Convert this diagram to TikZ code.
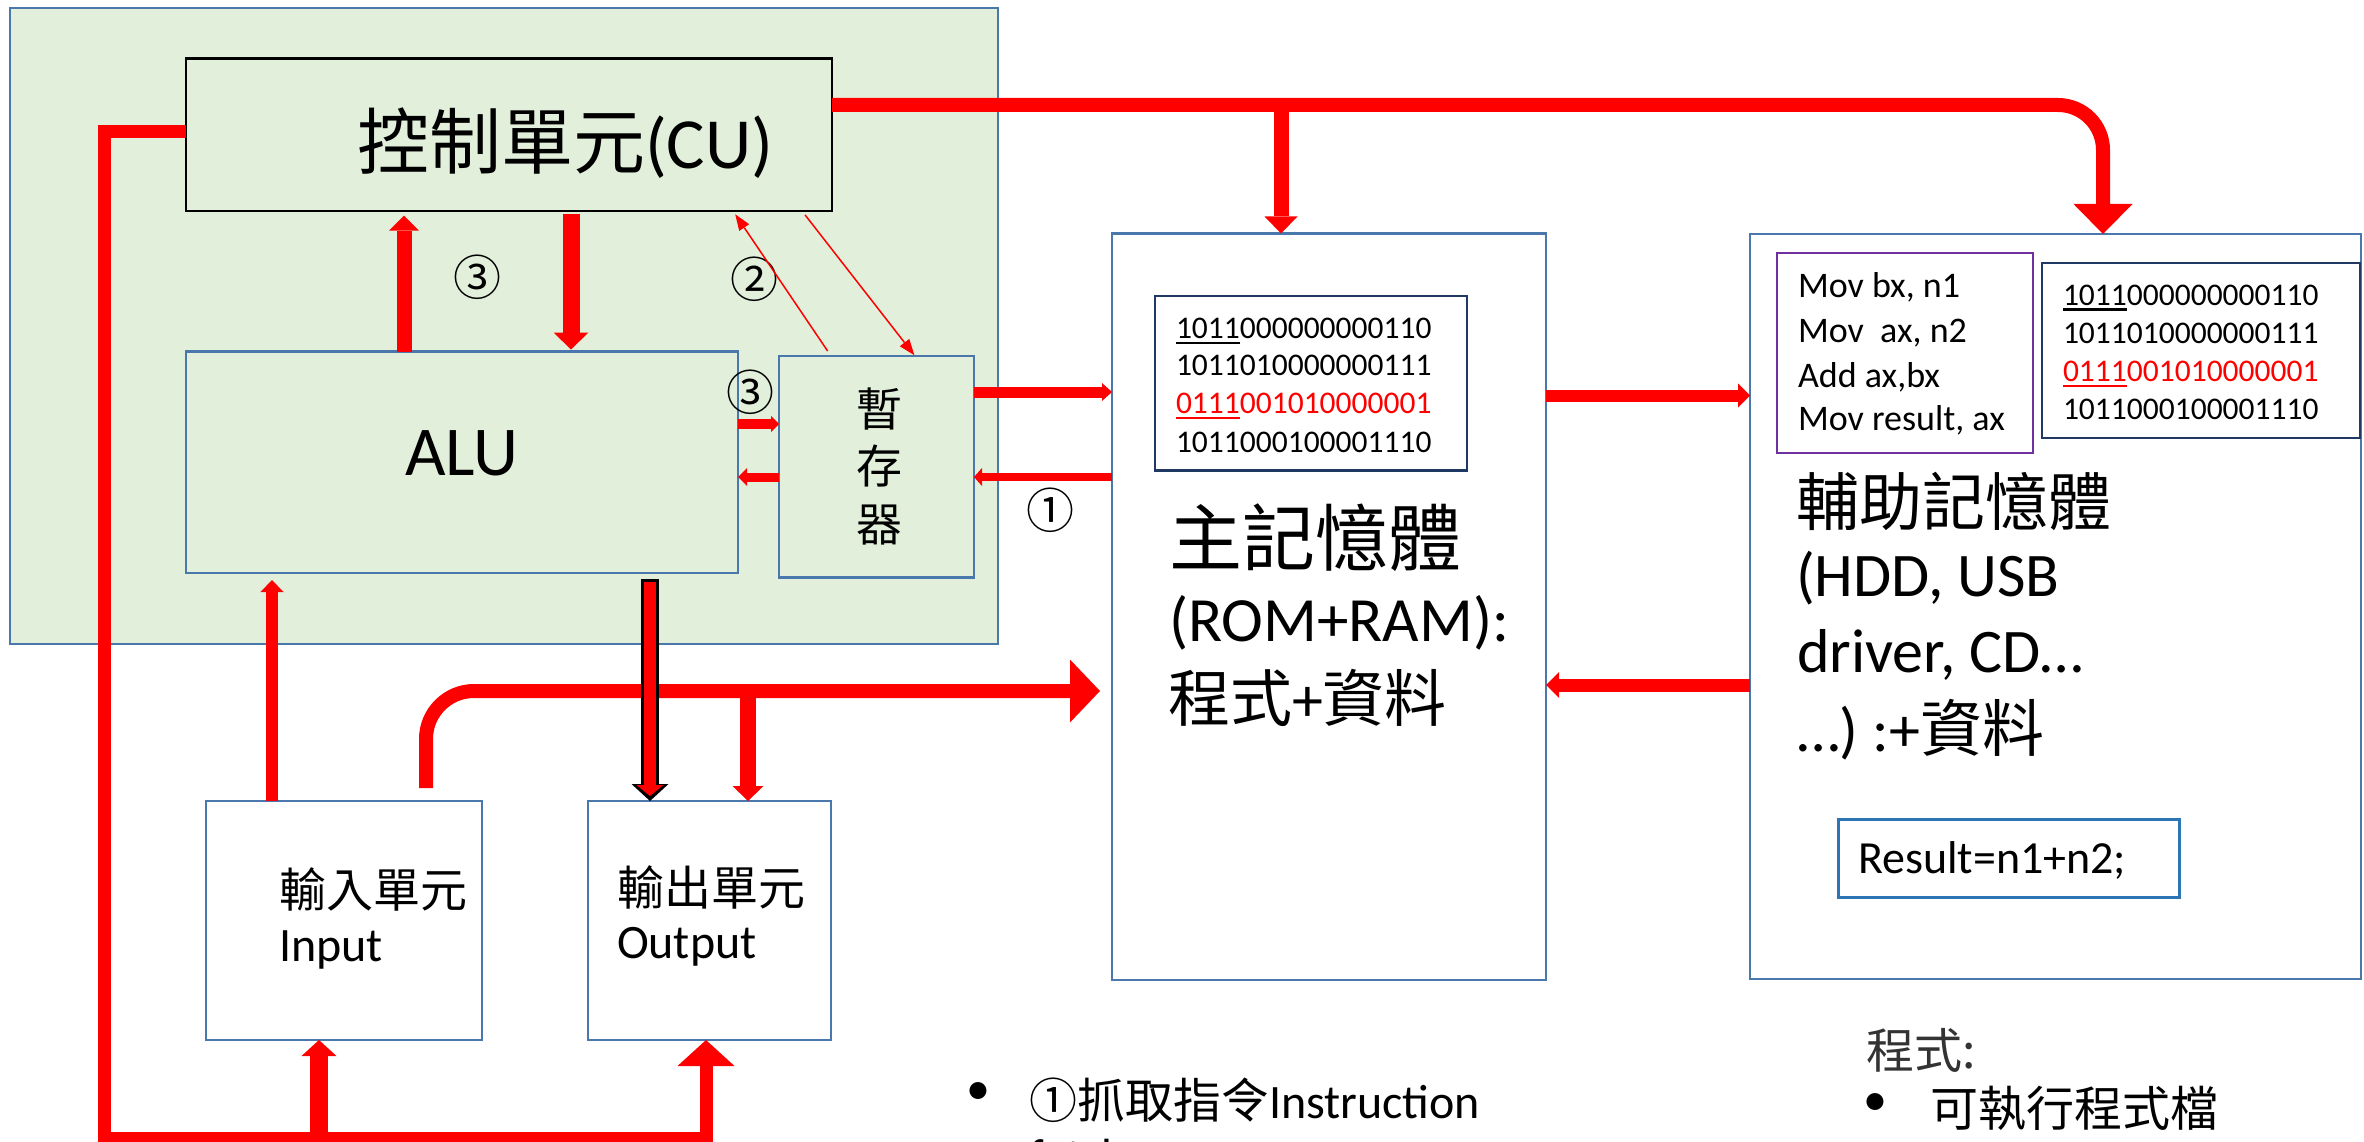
\documentclass[tikz,border=0pt]{standalone}
\usepackage{fontspec}
\setmainfont{Carlito}
\newfontfamily\cjk{Noto Sans CJK TC}
\usetikzlibrary{arrows.meta}
\definecolor{gfill}{HTML}{E2EFDA}
\definecolor{bbord}{HTML}{4A78AC}
\definecolor{navy}{HTML}{1F3864}
\definecolor{purp}{HTML}{7030A0}
\definecolor{resblue}{HTML}{2E75B6}
\newcommand\pxs[1]{\fontsize{#1pt}{#1pt}\selectfont}
\newcommand\myul[2]{\setbox0\hbox{#2}\rlap{\color{#1}\rule[-6pt]{\wd0}{2.5pt}}\box0\relax}
\tikzset{
  box/.style={draw=bbord, line width=2.5pt, anchor=north west, inner sep=0pt, outer sep=0pt},
  txt/.style={inner sep=0pt, outer sep=0pt, anchor=west},
  txtb/.style={inner sep=0pt, outer sep=0pt, anchor=base west},
  circ/.style={inner sep=0pt, outer sep=0pt, font=\pxs{48}\cjk},
  rl/.style={draw=red, line width=#1pt, line join=miter},
  ah/.style 2 args={-{Triangle[length=#1pt,width=#2pt,line width=0pt]}},
  thinr/.style={draw=red, line width=1.5pt, -{Triangle[length=16pt,width=12pt,line width=0pt]}}
}
\begin{document}
\begin{tikzpicture}[x=1pt,y=-1pt]
\useasboundingbox (0,0) rectangle (2364,1142);
% boxes
\node[box, fill=gfill, minimum width=988pt, minimum height=636pt] (cpu) at (10,8) {};
\node[box, draw=black, fill=gfill, minimum width=646pt, minimum height=152.5pt] (cu) at (186,58.5) {};
\node[box, fill=gfill, minimum width=552pt, minimum height=221.5pt] (alu) at (186,351.5) {};
\node[box, fill=gfill, minimum width=195pt, minimum height=221.5pt] (reg) at (779,356) {};
\node[box, fill=white, minimum width=434pt, minimum height=746.5pt] (main) at (1112,233.5) {};
\node[box, fill=white, minimum width=611pt, minimum height=745pt] (aux) at (1750,234) {};
\node[box, draw=navy, fill=white, minimum width=312pt, minimum height=174.5pt] (bin1) at (1155,296) {};
\node[box, draw=purp, line width=2pt, fill=white, minimum width=256pt, minimum height=200pt] (asm) at (1777,253) {};
\node[box, draw=navy, fill=white, minimum width=318pt, minimum height=175pt] (bin2) at (2042,263) {};
\node[box, draw=resblue, line width=3pt, fill=white, minimum width=341pt, minimum height=77.5pt] (res) at (1838,819.5) {};
\node[box, fill=white, minimum width=276pt, minimum height=239pt] (input) at (206,801) {};
\node[box, fill=white, minimum width=243pt, minimum height=239pt] (output) at (588,801) {};

% texts
\node[txt] (cut) at (357,143) {\pxs{72}{\cjk 控制單元}(CU)};
\node[txt, font=\pxs{70}] (alut) at (405,453) {ALU};
\node[align=center, inner sep=0pt, font={\fontsize{46pt}{57.5pt}\selectfont\cjk}] (regt) at (879,466) {暫\\存\\器};
\node[circ] (c3a) at (477,277) {③};
\node[circ] (c2) at (754,279) {②};
\node[circ] (c3b) at (750,392) {③};
\node[circ] (c1) at (1050,510) {①};

\node[txt, font=\pxs{73}\cjk] (mm1) at (1169,538) {主記憶體};
\node[txt, font=\pxs{63}] (mm2) at (1169,623) {(ROM+RAM):};
\node[txt] (mm3) at (1168,698) {\pxs{62}{\cjk 程式}+{\cjk 資料}};

\node[txtb, font=\pxs{31.5}] (b11) at (1176,338) {\myul{black}{1011}000000000110};
\node[txtb, font=\pxs{31.5}] (b12) at (1176,375) {1011010000000111};
\node[txtb, font=\pxs{31.5}] (b13) at (1176,413) {\myul{red}{\color{red}0111}001010000001};
\node[txtb, font=\pxs{31.5}] (b14) at (1176,452) {1011000100001110};

\node[txtb, font=\pxs{36}] (a1) at (1798,297) {Mov bx, n1};
\node[txtb, font=\pxs{36}] (a2) at (1798,342) {Mov\ \ ax, n2};
\node[txtb, font=\pxs{36}] (a3) at (1798,387) {Add ax,bx};
\node[txtb, font=\pxs{36}] (a4) at (1798,430) {Mov result, ax};

\node[txtb, font=\pxs{31.5}] (b21) at (2063,305) {\myul{black}{1011}000000000110};
\node[txtb, font=\pxs{31.5}] (b22) at (2063,343) {1011010000000111};
\node[txtb, font=\pxs{31.5}] (b23) at (2063,381) {\myul{red}{\color{red}0111}001010000001};
\node[txtb, font=\pxs{31.5}] (b24) at (2063,419) {1011000100001110};

\node[txt, font=\pxs{63}\cjk] (ax1) at (1796,501) {輔助記憶體};
\node[txt, font=\pxs{62}] (ax2) at (1796,578) {(HDD, USB};
\node[txtb, font=\pxs{62}] (ax3) at (1797,672) {driver, CD…};
\node[txt, font=\pxs{62}] (ax4) at (1797,730) {…) :+{\cjk 資料}};
\node[txtb, font=\pxs{46}] (rt) at (1858,873) {Result=n1+n2;};

\node[txt, font=\pxs{47}\cjk] (it1) at (279,889) {輸入單元};
\node[txtb, font=\pxs{48}] (it2) at (279,961) {Input};
\node[txt, font=\pxs{47}\cjk] (ot1) at (617,887) {輸出單元};
\node[txtb, font=\pxs{48}] (ot2) at (617,958) {Output};

\node[inner sep=0pt, font=\pxs{48}] (bul1) at (978,1094) {•};
\node[txtb, font=\pxs{48}] (bt1) at (1029,1118) {{\cjk ①抓取指令}Instruction};
\node[txtb, font=\pxs{48}] (bt2) at (1029,1172) {fetch};
\node[txt, font=\pxs{48}\cjk, text=black!80] (pt) at (1866,1050) {程式:};
\node[inner sep=0pt, font=\pxs{48}] (bul2) at (1875,1105) {•};
\node[txt, font=\pxs{48}\cjk] (pt2) at (1930,1108) {可執行程式檔};

% connectors
\coordinate (tbr) at (1281,105);
\coordinate (ib) at (319,1138);
\coordinate (ob) at (748,691);

\draw[rl=14, rounded corners=45pt, ah={30}{59}] (cu.north east |- 0,105) -| (aux.north -| 2103,0);
\draw[rl=15, ah={17}{33}] (tbr) -- (main.north -| tbr);
\draw[rl=13, ah={26}{57}] (cu.west |- 0,132) -| (104,1138) -| (output.south -| 706,0);
\draw[rl=18, ah={16}{35}] (ib) -- (input.south -| ib);
\draw[rl=12, ah={12}{23}, shorten >=7pt] (input.north -| 272,0) -- (alu.south -| 272,0);
\draw[rl=14, rounded corners=48pt, shorten <=13pt, shorten >=12pt, ah={30}{63}] (input.north -| 426,0) |- (main.west |- ob);
\draw[rl=16, ah={15}{31}] (ob) -- (output.north -| ob);
% black outlined arrow ALU -> output
\draw[draw=black, line width=18pt, -{Triangle[length=17pt,width=37pt,line width=0pt]}, shorten <=6pt] (alu.south -| 650,0) -- (output.north -| 650,0);
\draw[draw=red, line width=12pt, -{Triangle[length=11pt,width=27pt,line width=0pt]}, shorten <=9pt, shorten >=5pt] (alu.south -| 650,0) -- (output.north -| 650,0);
% CU <-> ALU
\draw[rl=15, ah={15}{30}, shorten >=4.6pt] (alu.north -| 404,0) -- (cu.south -| 404,0);
\draw[rl=17, ah={17}{35}, shorten <=3pt, shorten >=2pt] (cu.south -| 571,0) -- (alu.north -| 571,0);
% thin arrows
\draw[thinr, shorten <=6pt, shorten >=4pt] (reg.north -| 831,0) -- (cu.south -| 733,0);
\draw[thinr, shorten <=5pt, shorten >=1pt] (cu.south -| 802,0) -- (reg.north -| 915,0);
% ALU <-> reg
\draw[rl=10, ah={8}{16}] (alu.east |- 0,424) -- (reg.west |- 0,424);
\draw[rl=9, ah={9}{18}] (reg.west |- 0,477) -- (alu.east |- 0,477);
% reg <-> main
\draw[rl=11, ah={10}{18}] (reg.east |- 0,392) -- (main.west |- 0,392);
\draw[rl=8, ah={8}{18}] (main.west |- 0,477) -- (reg.east |- 0,477);
% main <-> aux
\draw[rl=12, ah={12}{24}] (main.east |- 0,395.5) -- (aux.west |- 0,395.5);
\draw[rl=13, ah={13}{26}] (aux.west |- 0,685) -- (main.east |- 0,685);
\end{tikzpicture}
\end{document}
